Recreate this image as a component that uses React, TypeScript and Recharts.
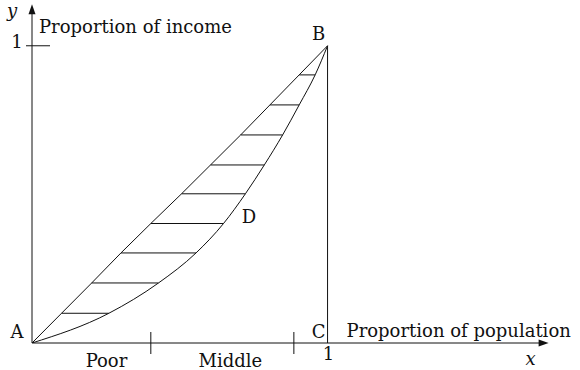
import React from 'react';
import { LineChart, Line, XAxis, YAxis, ReferenceLine, ReferenceDot } from 'recharts';

// cumulative share of income, read at the hatch levels
const shares = [0, 0.1, 0.202, 0.303, 0.402, 0.502, 0.599, 0.7, 0.801, 0.902, 1];
// population share on the line AB (almost the diagonal)
const equalityX = [0, 0.1, 0.202, 0.301, 0.402, 0.506, 0.604, 0.706, 0.805, 0.904, 1];
// population share on the curve ADB
const lorenzX = [0, 0.26, 0.428, 0.555, 0.648, 0.722, 0.786, 0.848, 0.904, 0.958, 1];

const groupTicks = [0.402, 0.886];
const groupLabels = [
  { text: 'Poor', x: 0.252 },
  { text: 'Middle', x: 0.671 },
];

const X_END = 1.748;
const Y_END = 1.14;

const equalityData = shares.map((y, i) => ({ x: equalityX[i], y }));
const lorenzData = shares.map((y, i) => ({ x: lorenzX[i], y }));
const hatches = shares.slice(1, -1).map((y, i) => ({ y, x1: equalityX[i + 1], x2: lorenzX[i + 1] }));

const INK = '#111';
const FONT = '"DejaVu Serif", "Liberation Serif", serif';

const Txt = ({ x, y, children, anchor = 'middle', italic = false }: any) => (
  <text
    x={x}
    y={y}
    fill={INK}
    textAnchor={anchor}
    fontFamily={FONT}
    fontSize={18}
    fontStyle={italic ? 'italic' : 'normal'}
  >
    {children}
  </text>
);

const label = (text: string, dx: number, dy: number, anchor = 'middle', italic = false) =>
  (p: any) => (
    <Txt x={p.cx + dx} y={p.cy + dy} anchor={anchor} italic={italic}>
      {text}
    </Txt>
  );

export default function App() {
  return (
    <div style={{ position: 'absolute', left: 0, top: 0, background: '#fff' }}>
      <LineChart width={580} height={370} margin={{ top: 0, right: 16, bottom: 27, left: 32 }}>
        <XAxis type="number" dataKey="x" domain={[0, 1.8]} allowDataOverflow hide />
        <YAxis type="number" dataKey="y" domain={[0, 1.154]} allowDataOverflow hide />

        {/* axes */}
        <ReferenceLine segment={[{ x: 0, y: 0 }, { x: X_END - 0.02, y: 0 }]} stroke={INK} />
        <ReferenceLine segment={[{ x: 0, y: 0 }, { x: 0, y: Y_END - 0.02 }]} stroke={INK} />
        <ReferenceDot
          x={X_END}
          y={0}
          shape={(p: any) => (
            <path d={`M${p.cx},${p.cy} L${p.cx - 10},${p.cy - 3.5} L${p.cx - 10},${p.cy + 3.5} Z`} fill={INK} />
          )}
        />
        <ReferenceDot
          x={0}
          y={Y_END}
          shape={(p: any) => (
            <path d={`M${p.cx},${p.cy} L${p.cx - 3.5},${p.cy + 10} L${p.cx + 3.5},${p.cy + 10} Z`} fill={INK} />
          )}
        />
        <ReferenceDot
          x={0}
          y={1}
          shape={(p: any) => <line x1={p.cx - 6} y1={p.cy} x2={p.cx + 18} y2={p.cy} stroke={INK} />}
        />
        {groupTicks.map((t) => (
          <ReferenceDot
            key={t}
            x={t}
            y={0}
            shape={(p: any) => <line x1={p.cx} y1={p.cy - 11} x2={p.cx} y2={p.cy + 11} stroke={INK} />}
          />
        ))}

        {/* BC */}
        <ReferenceLine segment={[{ x: 1, y: 0 }, { x: 1, y: 1 }]} stroke={INK} />

        {/* hatching between the two curves */}
        {hatches.map((h) => (
          <ReferenceLine key={h.y} segment={[{ x: h.x1, y: h.y }, { x: h.x2, y: h.y }]} stroke={INK} />
        ))}

        <Line data={equalityData} dataKey="y" type="linear" stroke={INK} strokeWidth={1} dot={false} isAnimationActive={false} />
        <Line data={lorenzData} dataKey="y" type="monotone" stroke={INK} strokeWidth={1} dot={false} isAnimationActive={false} />

        {/* labels */}
        <ReferenceDot x={0} y={Y_END} shape={label('y', -20, 13, 'middle', true)} />
        <ReferenceDot x={0} y={1} shape={label('1', -15, 2, 'middle')} />
        <ReferenceDot x={0} y={1} shape={label('Proportion of income', 7, -13, 'start')} />
        <ReferenceDot x={0} y={0} shape={label('A', -15, -5)} />
        <ReferenceDot x={1} y={1} shape={label('B', -9, -6)} />
        <ReferenceDot x={1} y={0} shape={label('C', -9, -5)} />
        <ReferenceDot x={1} y={0} shape={label('1', 1, 17)} />
        <ReferenceDot x={1} y={0} shape={label('Proportion of population', 19, -6, 'start')} />
        <ReferenceDot x={0.71} y={0.404} shape={label('D', 0, 0, 'start')} />
        <ReferenceDot x={X_END} y={0} shape={label('x', -18, 22, 'middle', true)} />
        {groupLabels.map((g) => (
          <ReferenceDot key={g.text} x={g.x} y={0} shape={label(g.text, 0, 24)} />
        ))}
      </LineChart>
    </div>
  );
}
